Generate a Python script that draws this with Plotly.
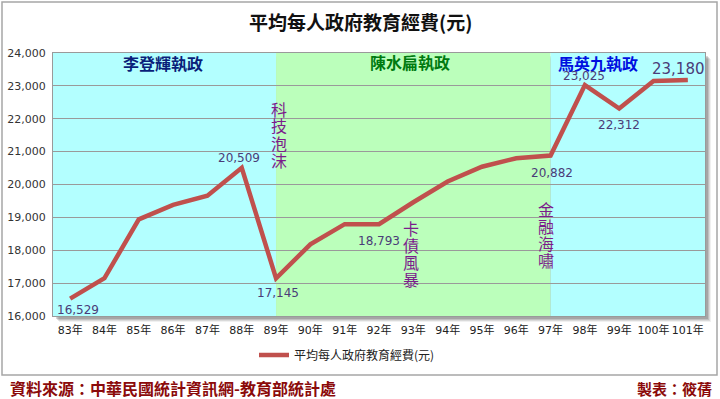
import plotly.graph_objects as go

# ---- data ----
years = ["83年", "84年", "85年", "86年", "87年", "88年", "89年", "90年", "91年", "92年",
         "93年", "94年", "95年", "96年", "97年", "98年", "99年", "100年", "101年"]
spending = [16529, 17150, 18940, 19380, 19660, 20509, 17145, 18180, 18793, 18793,
            19460, 20090, 20540, 20800, 20882, 23025, 22312, 23150, 23180]
series_name = "平均每人政府教育經費(元)"

# labelled points: (index, xshift, yshift, size)
labelled = [(0, 8, -11, 12), (5, -3, 10, 12), (6, 2, -15, 12), (9, 0, -17, 12),
            (14, 1, -17, 12), (15, -1, 9, 12), (16, 0, -17, 12), (18, -9, 11, 15)]

eras = [("李登輝執政", -0.5, 6, "#B3FFFF", "#0A1F7A"),
        ("陳水扁執政", 6, 14, "#BBFFBB", "#007A10"),
        ("馬英九執政", 14, 18.5, "#B3FFFF", "#0010E0")]
events = [("科技泡沫", 279, 108.5), ("卡債風暴", 411, 228), ("金融海嘯", 546, 208.5)]
era_label_px = [(163, 63), (410, 62), (598, 63)]

title = "平均每人政府教育經費(元)"
source = "資料來源：中華民國統計資訊網-教育部統計處"
maker = "製表：筱蒨"

# ---- geometry ----
W, H = 720, 399
L, R, T, B = 53, 705, 53, 316
PW, PH = R - L, B - T


def px(x):
    return (x - L) / PW


def py(y):
    return (B - y) / PH


fig = go.Figure()
fig.add_trace(go.Scatter(x=years, y=spending, mode="lines", name=series_name,
                         line=dict(color="#C0504D", width=4.5)))

shapes = []
# outer frame
shapes.append(dict(type="rect", xref="paper", yref="paper", x0=px(2), x1=px(717), y0=py(375), y1=py(2),
                   line=dict(color="#A6A6A6", width=1.5), fillcolor="rgba(0,0,0,0)", layer="below"))
# shadow
for off, a in [(6, 0.08), (5, 0.12), (4, 0.16), (3, 0.2)]:
    shapes.append(dict(type="rect", xref="paper", yref="paper", x0=px(L + off), x1=px(R + off),
                       y0=py(B + off), y1=py(T + off), line=dict(width=0),
                       fillcolor=f"rgba(60,60,60,{a})", layer="below"))
# era bands
for name, x0, x1, fill, _ in eras:
    shapes.append(dict(type="rect", xref="x", yref="paper", x0=x0, x1=x1, y0=0, y1=1,
                       line=dict(width=0), fillcolor=fill, layer="below"))


def note(text, x, y, size, color, family="Noto Sans CJK TC", xanchor="center"):
    return dict(text=text, xref="paper", yref="paper", x=px(x), y=py(y), xanchor=xanchor,
                yanchor="middle", showarrow=False, font=dict(size=size, color=color, family=family))


ann = []
for (name, x0, x1, fill, col), (ex, ey) in zip(eras, era_label_px):
    ann.append(note(f"<b>{name}</b>", ex, ey, 16, col))
for text, ex, ey in events:
    for k, ch in enumerate(text):
        ann.append(note(ch, ex, ey + 17 * k, 16, "#7B1C8C"))
for i, xs, ys, sz in labelled:
    ann.append(dict(text=f"{spending[i]:,}", x=years[i], y=spending[i], xshift=xs, yshift=ys,
                    xanchor="center", yanchor="middle", showarrow=False,
                    font=dict(size=sz, color="#4A3C78", family="DejaVu Sans")))
ann.append(note(f"<b>{title}</b>", 360, 22, 19, "#111111"))
ann.append(note(f"<b>{source}</b>", 8, 388, 16, "#8B0A0A", xanchor="left"))
ann.append(note(f"<b>{maker}</b>", 714, 388, 15, "#8B0A0A", xanchor="right"))

fig.update_layout(
    width=W, height=H,
    margin=dict(l=L, r=W - R, t=T, b=H - B),
    paper_bgcolor="white", plot_bgcolor="white",
    shapes=shapes, annotations=ann,
    showlegend=True,
    legend=dict(orientation="h", x=px(347), xanchor="center", y=py(355), yanchor="middle",
                font=dict(size=12, color="#222222", family="Noto Sans CJK TC"),
                bgcolor="rgba(0,0,0,0)", itemwidth=30),
    xaxis=dict(type="category", range=[-0.5, 18.5], showgrid=False, showline=True, mirror=True,
               linecolor="#9A9A9A", linewidth=1, ticks="", ticklabelstandoff=4, tickangle=0,
               automargin=False,
               tickfont=dict(size=11, color="#222222", family="DejaVu Sans, Noto Sans CJK TC"),
               fixedrange=True),
    yaxis=dict(range=[16000, 24000], dtick=1000, tickformat=",", showgrid=True, gridcolor="#9A9A9A",
               gridwidth=1, showline=True, mirror=True, linecolor="#9A9A9A", linewidth=1, zeroline=False,
               ticks="", ticklabelstandoff=4, automargin=False,
               tickfont=dict(size=11, color="#333333", family="DejaVu Sans"), fixedrange=True),
)

fig.write_html("out.html", config={"displayModeBar": False},
               post_script="document.body.style.margin='0';document.body.style.padding='0';")
